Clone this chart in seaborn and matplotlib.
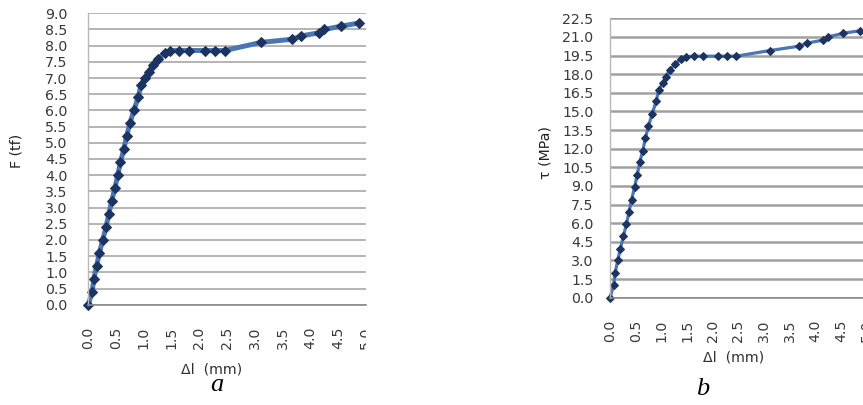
import matplotlib
matplotlib.use("Agg")
import matplotlib.pyplot as plt
import seaborn as sns
from matplotlib.transforms import Bbox, TransformedBbox

# ---- data ----
dl = [0, 0.07, 0.10, 0.15, 0.20, 0.26, 0.32, 0.37, 0.42, 0.48, 0.53, 0.58,
      0.64, 0.69, 0.75, 0.82, 0.90, 0.95, 1.03, 1.09, 1.16, 1.26, 1.38, 1.48,
      1.63, 1.82, 2.10, 2.28, 2.46, 3.11, 3.68, 3.84, 4.16, 4.25, 4.55, 4.88]
F_tf = [0, 0.4, 0.8, 1.2, 1.6, 2.0, 2.4, 2.8, 3.2, 3.6, 4.0, 4.4,
        4.8, 5.2, 5.6, 6.0, 6.4, 6.8, 7.0, 7.2, 7.4, 7.6, 7.78, 7.85,
        7.85, 7.85, 7.85, 7.85, 7.85, 8.1, 8.2, 8.3, 8.4, 8.5, 8.6, 8.7]
tau_mpa = [0, 1.0, 2.0, 3.0, 3.9, 4.95, 5.9, 6.9, 7.9, 8.9, 9.9, 10.9,
           11.85, 12.85, 13.8, 14.8, 15.8, 16.75, 17.3, 17.8, 18.3, 18.8, 19.2, 19.4,
           19.45, 19.45, 19.45, 19.45, 19.45, 19.9, 20.25, 20.5, 20.75, 21.0, 21.3, 21.5]

x_ticks = [0.0, 0.5, 1.0, 1.5, 2.0, 2.5, 3.0, 3.5, 4.0, 4.5, 5.0]
yF_ticks = [0.0, 0.5, 1.0, 1.5, 2.0, 2.5, 3.0, 3.5, 4.0, 4.5, 5.0, 5.5, 6.0,
            6.5, 7.0, 7.5, 8.0, 8.5, 9.0]
yT_ticks = [0.0, 1.5, 3.0, 4.5, 6.0, 7.5, 9.0, 10.5, 12.0, 13.5, 15.0, 16.5,
            18.0, 19.5, 21.0, 22.5]

xlabel = "Δl  (mm)"
ylabel_a = "F (tf)"
ylabel_b = "τ (MPa)"

sns.set_theme(style="white")
plt.rcParams["font.family"] = ["DejaVu Sans"]

W, H = 863, 405
fig = plt.figure(figsize=(W / 100, H / 100), dpi=100)
fig.patch.set_facecolor("white")

line_col = "#4a76b4"
mark_col = "#1d3461"
tick_col = "#3a3a3a"
FS = 10.2


def style(ax, yticks, ymax, lw_grid, ypad):
    ax.set_xlim(0, 5.0)
    ax.set_ylim(0, ymax)
    ax.set_xticks(x_ticks)
    ax.set_xticklabels([f"{v:.1f}" for v in x_ticks], rotation=90)
    ax.set_yticks(yticks)
    ax.set_yticklabels([f"{v:.1f}" for v in yticks])
    ax.yaxis.grid(True, color="#a0a0a0", lw=lw_grid)
    ax.xaxis.grid(False)
    ax.set_axisbelow(True)
    for s in ["top", "right"]:
        ax.spines[s].set_visible(False)
    ax.spines["left"].set_color("#b8b8b8")
    ax.spines["left"].set_linewidth(1.0)
    ax.spines["bottom"].set_color("#8a8a8a")
    ax.spines["bottom"].set_linewidth(1.2)
    ax.tick_params(axis="y", length=0, pad=ypad, labelsize=FS, labelcolor=tick_col)
    ax.tick_params(axis="x", length=4, width=1, color="#8a8a8a", direction="out",
                   pad=12, labelsize=FS, labelcolor=tick_col)
    ax.set_facecolor("white")


# ---- panel a ----
ax1 = fig.add_axes([88.3 / W, 1 - 304.7 / H, 277.4 / W, 291.4 / H])
sns.lineplot(x=dl, y=F_tf, ax=ax1, sort=False, color=line_col, lw=3.6,
             marker="D", markersize=4.6, markerfacecolor=mark_col,
             markeredgecolor=mark_col, clip_on=False)
style(ax1, yF_ticks, 9.0, 1.1, 15)
ax1.set_xlabel(xlabel, fontsize=FS, color="#303030")
ax1.set_ylabel(ylabel_a, fontsize=FS, color="#202020")
ax1.xaxis.set_label_coords(0.446, -0.197)
ax1.yaxis.set_label_coords(-0.232, 0.527)

# clip the last x tick label at the chart edge as in the reference
clip = TransformedBbox(Bbox([[0, 0], [366 / W, 1]]), fig.transFigure)
lab = ax1.get_xticklabels()[-1]
lab.set_clip_box(clip)
lab.set_clip_on(True)

# ---- panel b ----
ax2 = fig.add_axes([610 / W, 1 - 297.7 / H, 256.5 / W, 279.4 / H])
sns.lineplot(x=dl, y=tau_mpa, ax=ax2, sort=False, color=line_col, lw=2.3,
             marker="D", markersize=4.3, markerfacecolor=mark_col,
             markeredgecolor=mark_col, clip_on=False)
style(ax2, yT_ticks, 22.5, 1.8, 12)
ax2.set_xlabel(xlabel, fontsize=FS, color="#303030")
ax2.set_ylabel(ylabel_b, fontsize=FS, color="#202020")
ax2.xaxis.set_label_coords(0.48, -0.19)
ax2.yaxis.set_label_coords(-0.226, 0.52)

# captions
fig.text(217 / W, 1 - 391 / H, "a", fontsize=19, style="italic",
         family="Liberation Serif", ha="center", va="baseline", color="black")
fig.text(703 / W, 1 - 395 / H, "b", fontsize=19, style="italic",
         family="Liberation Serif", ha="center", va="baseline", color="black")

fig.savefig("out.png", dpi=100, facecolor="white")
